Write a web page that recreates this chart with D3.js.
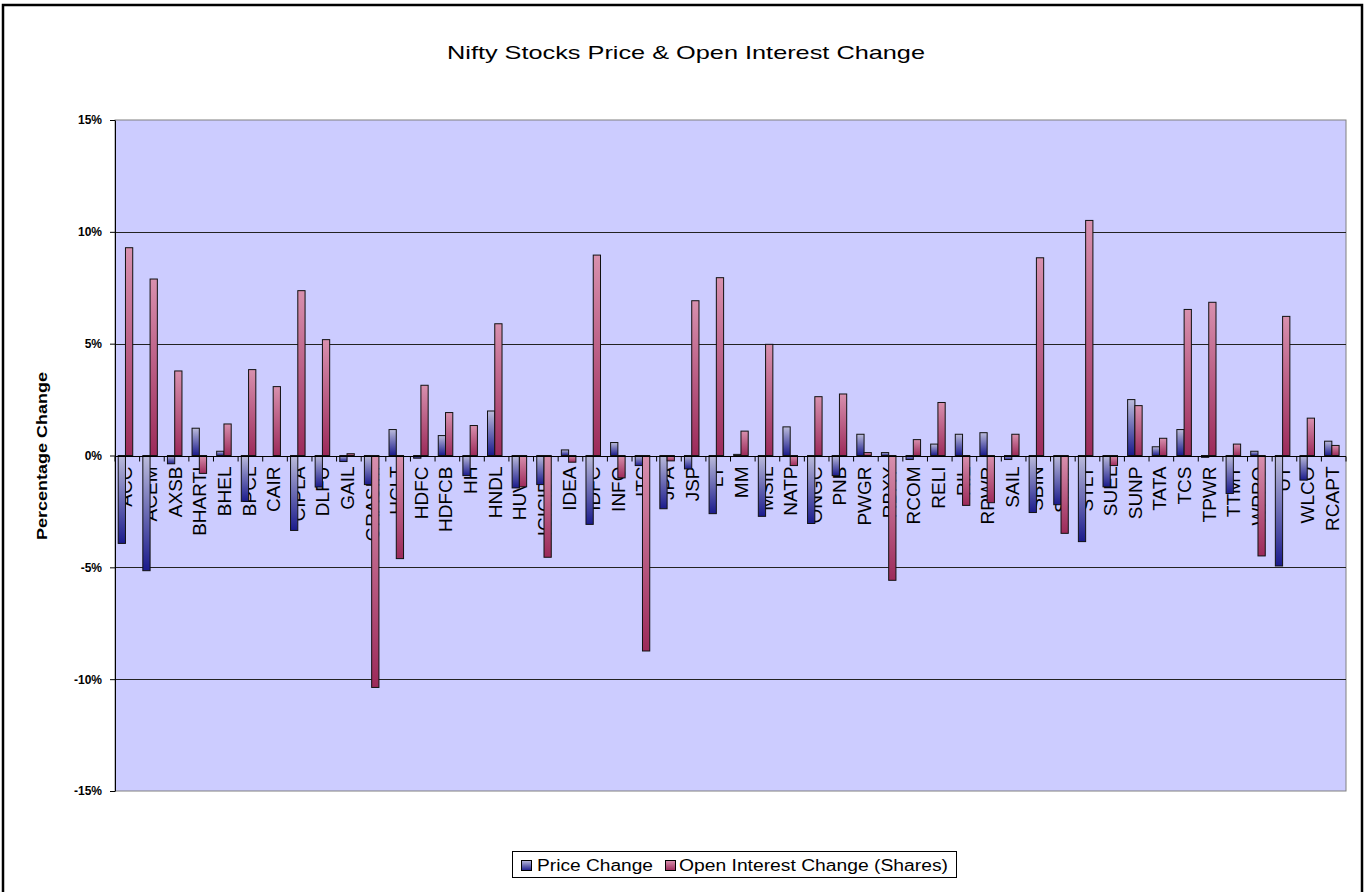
<!DOCTYPE html>
<html>
<head>
<meta charset="utf-8">
<script src="https://cdn.jsdelivr.net/npm/d3@7"></script>
<style>
  body { margin: 0; background: #fff; }
  text { font-family: "Liberation Sans", Arial, sans-serif; }
</style>
</head>
<body>
<svg id="chart" width="1366" height="892"></svg>
<script>
// stock tickers along the x axis
const categories = ["ACC", "ACEM", "AXSB", "BHARTI", "BHEL", "BPCL", "CAIR", "CIPLA", "DLFU", "GAIL",
    "GRASIM", "HCLT", "HDFC", "HDFCB", "HH", "HNDL", "HUVR", "ICICIBC", "IDEA", "IDFC",
    "INFO", "ITC", "JPA", "JSP", "LT", "MM", "MSIL", "NATP", "ONGC", "PNB",
    "PWGR", "RBXY", "RCOM", "RELI", "RIL", "RPWR", "SAIL", "SBIN", "SIEM", "STLT",
    "SUEL", "SUNP", "TATA", "TCS", "TPWR", "TTMT", "WPRO", "UT", "WLCO", "RCAPT"];

// percentage values
const priceChange = [-3.93, -5.15, -0.37, 1.22, 0.19, -2.05, 0, -3.35, -1.41, -0.27,
    -1.3, 1.16, -0.12, 0.89, -0.9, 1.99, -1.45, -1.3, 0.25, -3.08,
    0.58, -0.45, -2.38, -0.6, -2.6, 0.05, -2.72, 1.28, -3.04, -0.9,
    0.95, 0.13, -0.18, 0.51, 0.95, 1.02, -0.18, -2.55, -2.2, -3.85,
    -1.4, 2.5, 0.39, 1.16, -0.08, -1.7, 0.19, -4.94, -1.1, 0.64];

const oiChange = [9.29, 7.89, 3.78, -0.8, 1.41, 3.84, 3.08, 7.37, 5.18, 0.08,
    -10.37, -4.61, 3.14, 1.92, 1.34, 5.89, -1.4, -4.55, -0.3, 8.96,
    -1.0, -8.74, -0.24, 6.92, 7.95, 1.09, 4.97, -0.45, 2.63, 2.75,
    0.13, -5.58, 0.71, 2.37, -2.23, -2.11, 0.95, 8.84, -3.48, 10.51,
    -0.45, 2.23, 0.77, 6.53, 6.85, 0.51, -4.49, 6.22, 1.67, 0.45];

const seriesNames = ["Price Change", "Open Interest Change (Shares)"];
const yTicks = [-15, -10, -5, 0, 5, 10, 15];

const svg = d3.select("#chart");
const plot = { left: 115, right: 1346, top: 120, bottom: 791 };

const rows = categories.map((c, i) => ({ cat: c, vals: [priceChange[i], oiChange[i]] }));

const x = d3.scaleBand()
    .domain(categories)
    .range([plot.left, plot.right]);
const bw = x.bandwidth();

const xs = d3.scaleBand()
    .domain(seriesNames)
    .range([bw * 0.13, bw * 0.72]);

const y = d3.scaleLinear()
    .domain([-15, 15])
    .range([plot.bottom, plot.top]);

// gradients for the bars
const defs = svg.append("defs");
const grads = [
    { id: "gBlue", top: "#bcbcdc", bottom: "#1a1a8c" },
    { id: "gRed", top: "#d890ae", bottom: "#9c2a5a" }
];
grads.forEach(g => {
    const lg = defs.append("linearGradient")
        .attr("id", g.id)
        .attr("x1", 0).attr("y1", 0).attr("x2", 0).attr("y2", 1);
    lg.append("stop").attr("offset", "0%").attr("stop-color", g.top);
    lg.append("stop").attr("offset", "100%").attr("stop-color", g.bottom);
});
const fills = ["url(#gBlue)", "url(#gRed)"];

// background and outer frame
svg.append("rect")
    .attr("width", 1366).attr("height", 892)
    .attr("fill", "#fff");
svg.append("rect")
    .attr("x", 3).attr("y", 5)
    .attr("width", 1359).attr("height", 900)
    .attr("fill", "none")
    .attr("stroke", "#000")
    .attr("stroke-width", 2.5);

// plot area
svg.append("rect")
    .attr("x", plot.left).attr("y", plot.top)
    .attr("width", plot.right - plot.left)
    .attr("height", plot.bottom - plot.top)
    .attr("fill", "#ccccff")
    .attr("stroke", "#808080")
    .attr("stroke-width", 1);

svg.append("g")
    .selectAll("line")
    .data(yTicks.filter(d => d !== 0 && Math.abs(d) !== 15))
    .enter().append("line")
    .attr("x1", plot.left).attr("x2", plot.right)
    .attr("y1", d => Math.round(y(d)) + 0.5)
    .attr("y2", d => Math.round(y(d)) + 0.5)
    .attr("stroke", "#222")
    .attr("stroke-width", 1.2);

// category labels (bars are drawn over them, as in the original)
svg.append("g")
    .selectAll("text")
    .data(categories)
    .enter().append("text")
    .attr("transform", d => `translate(${x(d) + bw * 0.43},${y(0) + 11}) rotate(-90)`)
    .attr("dy", "0.36em")
    .attr("text-anchor", "end")
    .style("font-size", "19px")
    .attr("fill", "#000")
    .text(d => d);

// bars
const groups = svg.append("g")
    .selectAll("g")
    .data(rows)
    .enter().append("g")
    .attr("transform", d => `translate(${x(d.cat)},0)`);

groups.selectAll("rect")
    .data(d => d.vals.map((v, j) => ({ v: v, j: j })))
    .enter().append("rect")
    .attr("x", d => xs(seriesNames[d.j]))
    .attr("y", d => y(Math.max(0, d.v)))
    .attr("width", xs.bandwidth())
    .attr("height", d => Math.abs(y(d.v) - y(0)))
    .attr("fill", d => fills[d.j])
    .attr("stroke", d => d.v === 0 ? "none" : "#111")
    .attr("stroke-width", 1);

// zero axis with ticks between categories
const y0 = Math.round(y(0)) + 0.5;
svg.append("line")
    .attr("x1", plot.left).attr("x2", plot.right)
    .attr("y1", y0).attr("y2", y0)
    .attr("stroke", "#000")
    .attr("stroke-width", 1.2);

svg.append("g")
    .selectAll("line")
    .data(categories.map(c => x(c)).concat([x.range()[1]]))
    .enter().append("line")
    .attr("x1", d => d).attr("x2", d => d)
    .attr("y1", y0).attr("y2", y0 + 5)
    .attr("stroke", "#000");

// y axis
const yAxis = svg.append("g")
    .attr("transform", `translate(${plot.left},0)`)
    .call(d3.axisLeft(y)
        .tickValues(yTicks)
        .tickSize(5)
        .tickSizeOuter(0)
        .tickPadding(8)
        .tickFormat(d => d + "%"));
yAxis.select(".domain").attr("stroke", "#000");
yAxis.selectAll("line").attr("stroke", "#000");
yAxis.selectAll("text")
    .style("font-size", "12px")
    .style("font-weight", "bold")
    .style("font-family", "'Liberation Sans', Arial, sans-serif")
    .attr("fill", "#000");

// title
svg.append("text")
    .attr("x", 686)
    .attr("y", 59)
    .attr("text-anchor", "middle")
    .attr("textLength", 478)
    .attr("lengthAdjust", "spacingAndGlyphs")
    .style("font-size", "19px")
    .attr("fill", "#000")
    .text("Nifty Stocks Price & Open Interest Change");

// y axis title
svg.append("text")
    .attr("transform", "translate(47,456) rotate(-90)")
    .attr("text-anchor", "middle")
    .attr("textLength", 168)
    .attr("lengthAdjust", "spacingAndGlyphs")
    .style("font-size", "15px")
    .style("font-weight", "bold")
    .text("Percentage Change");

// legend
const legend = svg.append("g");
legend.append("rect")
    .attr("x", 512.5).attr("y", 851.5)
    .attr("width", 444).attr("height", 26)
    .attr("fill", "#fff")
    .attr("stroke", "#000");

const legendItems = [
    { name: seriesNames[0], sx: 521, tx: 537, len: 116, fill: fills[0] },
    { name: seriesNames[1], sx: 665, tx: 679, len: 269, fill: fills[1] }
];
legendItems.forEach(it => {
    legend.append("rect")
        .attr("x", it.sx + 0.5).attr("y", 860.5)
        .attr("width", 10).attr("height", 10)
        .attr("fill", it.fill)
        .attr("stroke", "#000");
    legend.append("text")
        .attr("x", it.tx)
        .attr("y", 871)
        .attr("textLength", it.len)
        .attr("lengthAdjust", "spacingAndGlyphs")
        .style("font-size", "16px")
        .text(it.name);
});
</script>
</body>
</html>
